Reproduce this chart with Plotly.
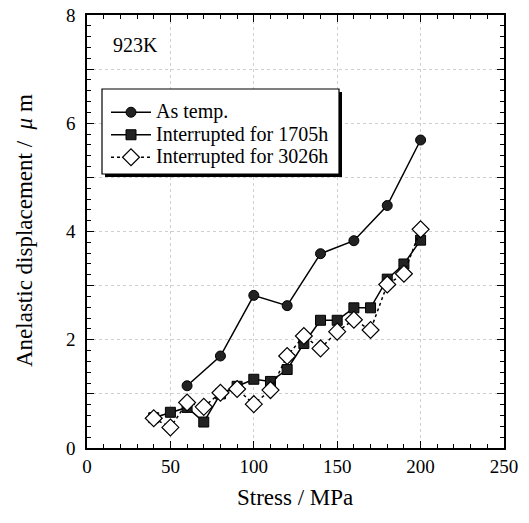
import plotly.graph_objects as go

stress = [40, 50, 60, 70, 80, 90, 100, 110, 120, 130, 140, 150, 160, 170, 180, 190, 200]

as_temp_x = [60, 80, 100, 120, 140, 160, 180, 200]
as_temp_y = [1.15, 1.70, 2.82, 2.63, 3.59, 3.83, 4.48, 5.69]

int1705_y = [0.56, 0.66, 0.75, 0.48, 1.00, 1.14, 1.27, 1.23, 1.45, 1.93, 2.36, 2.36, 2.59, 2.59, 3.12, 3.40, 3.84]
int3026_y = [0.55, 0.38, 0.84, 0.76, 1.02, 1.09, 0.81, 1.07, 1.70, 2.07, 1.84, 2.15, 2.37, 2.18, 3.02, 3.22, 4.04]

series_names = ["As temp.", "Interrupted for 1705h", "Interrupted for 3026h"]

y_tickvals = [0, 1, 2, 3, 4, 5, 6, 7, 8]
y_ticktext = ["0", "", "2", "", "4", "", "6", "", "8"]

FONT = "Liberation Serif, Times New Roman, serif"

# positions below are screen (image) pixels; body margin removed via post_script
L, R, T, B = 87, 504, 15, 448
W, H = 529, 523

def px(xi):
    return (xi - L) / (R - L)

def py(yi):
    return (B - yi) / (B - T)

def big(s):
    return '<span style="font-size:20px">' + s + '</span>'

fig = go.Figure()
fig.add_trace(go.Scatter(x=as_temp_x, y=as_temp_y, mode="lines+markers", name=big(series_names[0]),
                         line=dict(color="black", width=1.5),
                         marker=dict(symbol="circle", size=10, color="#222", line=dict(color="black", width=1))))
fig.add_trace(go.Scatter(x=stress, y=int1705_y, mode="lines+markers", name=big(series_names[1]),
                         line=dict(color="black", width=1.5),
                         marker=dict(symbol="square", size=10, color="#222", line=dict(color="black", width=1))))
fig.add_trace(go.Scatter(x=stress, y=int3026_y, mode="lines+markers", name=big(series_names[2]),
                         line=dict(color="black", width=1.5, dash="dot"),
                         marker=dict(symbol="diamond", size=13, color="white", line=dict(color="black", width=1.2))))

# legend frame with drop shadow
fig.add_shape(type="rect", xref="paper", yref="paper", x0=px(105), x1=px(342), y0=py(177), y1=py(92),
              fillcolor="black", line=dict(width=0), layer="above")
fig.add_shape(type="rect", xref="paper", yref="paper", x0=px(102), x1=px(339), y0=py(174), y1=py(89),
              fillcolor="white", line=dict(color="black", width=1.2), layer="above")

fig.add_annotation(text="923K", xref="paper", yref="paper", x=px(111), y=py(45), xanchor="left", yanchor="middle",
                   showarrow=False, font=dict(family=FONT, size=20, color="black"))

fig.add_annotation(text="Stress / MPa", xref="paper", yref="paper", x=px(295), y=py(497),
                   xanchor="center", yanchor="middle", showarrow=False,
                   font=dict(family=FONT, size=23, color="black"))
fig.add_annotation(text="Anelastic displacement /  <i>μ</i> m", xref="paper", yref="paper", x=px(25), y=py(231),
                   xanchor="center", yanchor="middle", textangle=-90, showarrow=False,
                   font=dict(family=FONT, size=23, color="black"))

axis_common = dict(showline=True, linecolor="black", linewidth=1.5, mirror="allticks",
                   ticks="inside", ticklen=7, tickwidth=1, tickcolor="black",
                   showgrid=True, gridcolor="#cfcfcf", griddash="dot", gridwidth=1,
                   zeroline=False, automargin=False, ticklabeloverflow="allow",
                   tickfont=dict(family=FONT, size=19, color="black"))

fig.update_xaxes(range=[0, 250], dtick=50, tick0=0,
                 minor=dict(dtick=10, ticks="inside", ticklen=4, tickcolor="black", showgrid=False),
                 **axis_common)
fig.update_yaxes(range=[0, 8], tickmode="array", tickvals=y_tickvals, ticktext=y_ticktext, ticklabelstandoff=6,
                 minor=dict(dtick=0.2, ticks="inside", ticklen=4, tickcolor="black", showgrid=False),
                 **axis_common)

fig.update_layout(
    width=W, height=H,
    margin=dict(l=L, r=W - R, t=T, b=H - B),
    paper_bgcolor="white", plot_bgcolor="white",
    font=dict(family=FONT, color="black", size=19),
    showlegend=True,
    legend=dict(x=px(106), y=py(96), xanchor="left", yanchor="top",
                bgcolor="rgba(0,0,0,0)", borderwidth=0,
                font=dict(family=FONT, size=15, color="black"),
                tracegroupgap=0, itemwidth=40),
)

fig.write_html("out.html", config={"displayModeBar": False},
               post_script="document.body.style.margin='0';document.body.style.overflow='hidden';")
